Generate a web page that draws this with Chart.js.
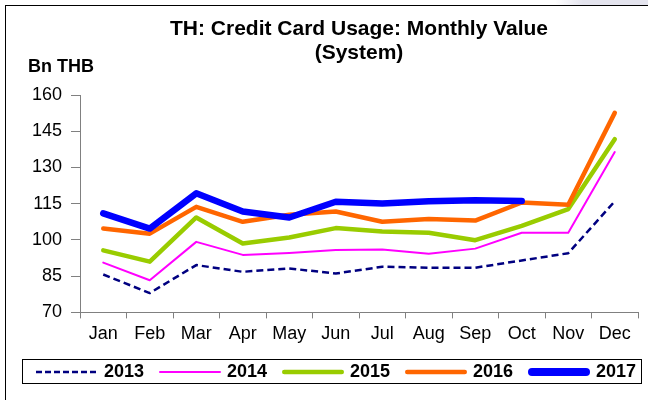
<!DOCTYPE html>
<html>
<head>
<meta charset="utf-8">
<script src="https://cdn.jsdelivr.net/npm/chart.js@4"></script>
<style>
  body { margin: 0; background: #fff; font-family: "Liberation Sans", Arial, sans-serif; }
  #wrap { position: relative; width: 648px; height: 400px; overflow: hidden; }
  #frame { position: absolute; left: 5px; top: 5px; width: 660px; height: 420px;
           border-left: 1px solid #000; border-top: 1px solid #000; }
  #corner { position: absolute; left: 555px; top: 0; width: 93px; height: 5px;
            background: linear-gradient(to right, #fff, #e4e4ee 30%); }
  #c { position: absolute; left: 0; top: 0; }
  #unit { position: absolute; left: 28px; top: 57px; font-weight: bold; font-size: 18px; line-height: 18px; }
  #legend { position: absolute; left: 22px; top: 359px; width: 605px; height: 23px;
            border: 1px solid #000; display: flex; align-items: center; padding-left: 13px; box-sizing: content-box; }
  #legend .item { display: flex; align-items: center; width: 123px; flex: none; }
  #legend .item span { margin-left: 6px; font-weight: bold; font-size: 18px; line-height: 23px; }
</style>
</head>
<body>
<div id="wrap">
  <div id="frame"></div>
  <div id="corner"></div>
  <canvas id="c" width="648" height="400"></canvas>
  <div id="unit">Bn THB</div>
  <div id="legend"></div>
</div>
<script>
const months = ['Jan', 'Feb', 'Mar', 'Apr', 'May', 'Jun', 'Jul', 'Aug', 'Sep', 'Oct', 'Nov', 'Dec'];
const yTicks = [70, 85, 100, 115, 130, 145, 160];

const v2013 = [85.7, 78.0, 89.6, 86.8, 88.2, 86.1, 88.9, 88.5, 88.5, 91.5, 94.5, 116.0];
const v2014 = [90.6, 83.3, 99.2, 93.8, 94.6, 95.8, 96.0, 94.3, 96.4, 103.0, 103.0, 136.4];
const v2015 = [95.7, 91.0, 109.3, 98.5, 101.0, 104.9, 103.5, 103.0, 99.9, 105.8, 112.8, 141.7];
const v2016 = [104.7, 102.6, 113.7, 107.5, 110.4, 111.8, 107.5, 108.7, 108.0, 115.5, 114.6, 152.6];
const v2017 = [111.0, 104.7, 119.3, 111.8, 109.3, 115.8, 115.1, 116.0, 116.4, 116.1, null, null];

const axisColor = '#808080';
const font = { family: '"Liberation Sans", Arial, sans-serif', size: 18 };

function series(label, data, color, width, dash, order) {
    return {
        label: label,
        data: data,
        borderColor: color,
        backgroundColor: color,
        borderWidth: width,
        borderDash: dash,
        borderJoinStyle: 'round',
        borderCapStyle: dash.length ? 'butt' : 'round',
        pointRadius: 0,
        tension: 0,
        order: order,
        legendWidth: width
    };
}

const datasets = [
    series('2013', v2013, '#000080', 2.5, [7, 4], 5),
    series('2014', v2014, '#ff00ff', 2, [], 4),
    series('2015', v2015, '#99cc00', 4.5, [], 3),
    series('2016', v2016, '#ff6600', 4.5, [], 2),
    series('2017', v2017, '#0000ff', 6.5, [], 1)
];

const ctx = document.getElementById('c').getContext('2d');
new Chart(ctx, {
    type: 'line',
    data: { labels: months, datasets: datasets },
    options: {
        responsive: false,
        animation: false,
        layout: { padding: { left: 0, right: 10, top: 0, bottom: 50 } },
        plugins: {
            legend: { display: false },
            tooltip: { enabled: false },
            title: {
                display: true,
                fullSize: false,
                text: ['TH: Credit Card Usage: Monthly Value', '(System)'],
                color: '#000',
                font: { family: font.family, size: 21, weight: 'bold', lineHeight: '24px' },
                padding: { top: 17, bottom: 30 }
            }
        },
        scales: {
            x: {
                offset: true,
                grid: { offset: true, drawOnChartArea: false, drawTicks: true, tickLength: 6, color: axisColor },
                border: { color: axisColor, width: 1 },
                ticks: { color: '#000', font: font, padding: 5, maxRotation: 0 }
            },
            y: {
                min: yTicks[0],
                max: yTicks[yTicks.length - 1],
                afterFit: scale => { scale.width = 80; },
                afterBuildTicks: scale => { scale.ticks = yTicks.map(v => ({ value: v })); },
                grid: { drawOnChartArea: false, drawTicks: true, tickLength: 9, color: axisColor },
                border: { color: axisColor, width: 1 },
                ticks: { color: '#000', font: font, padding: 9 }
            }
        }
    }
});

// html legend with line swatches
const legendEl = document.getElementById('legend');
datasets.forEach(ds => {
    const w = Math.max(ds.legendWidth, 2) + (ds.legendWidth > 5 ? 1.5 : 0);
    const cap = ds.borderDash.length ? 'butt' : 'round';
    const dash = ds.borderDash.length ? '6 3' : 'none';
    legendEl.innerHTML += `
        <div class="item">
            <svg width="62" height="12"><line x1="${cap === 'round' ? w / 2 : 0}" y1="6" x2="${cap === 'round' ? 62 - w / 2 : 62}" y2="6"
                stroke="${ds.borderColor}" stroke-width="${w}" stroke-linecap="${cap}" stroke-dasharray="${dash}"/></svg>
            <span>${ds.label}</span>
        </div>`;
});
</script>
</body>
</html>
